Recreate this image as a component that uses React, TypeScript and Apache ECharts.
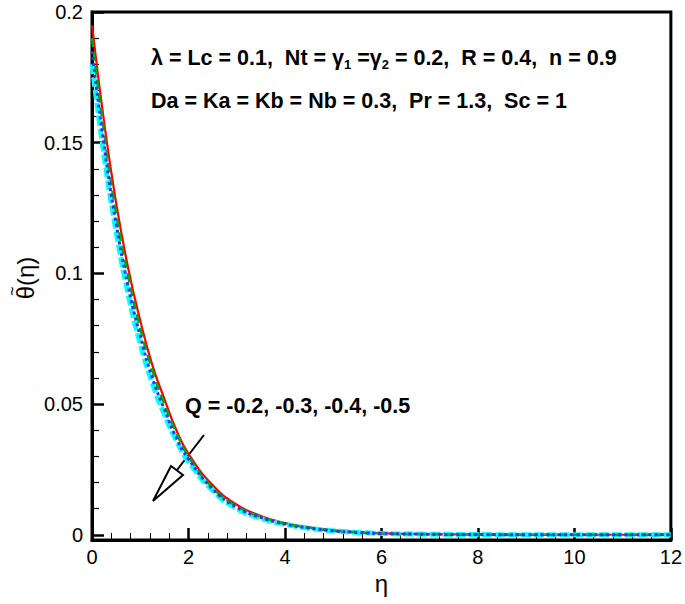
import React, { useEffect, useRef } from "react";
import * as echarts from "echarts";

const eta = [0, 0.25, 0.5, 0.75, 1, 1.25, 1.5, 1.75, 2, 2.5, 3, 3.5, 4, 4.5, 5, 5.5, 6, 7, 8, 9, 10, 11, 12];
const qRed = [0.195, 0.158, 0.127, 0.102, 0.082, 0.065, 0.052, 0.04, 0.031, 0.019, 0.0115, 0.0072, 0.0045, 0.0028, 0.0017, 0.001, 0.0006, 0.0002, 0.0001, 0, 0, 0, 0];
const qGreen = [0.19, 0.154, 0.123, 0.099, 0.079, 0.063, 0.05, 0.039, 0.03, 0.018, 0.011, 0.0069, 0.0043, 0.0027, 0.0016, 0.0009, 0.0005, 0.0002, 0.0001, 0, 0, 0, 0];
const qBlue = [0.185, 0.149, 0.119, 0.095, 0.076, 0.06, 0.048, 0.037, 0.029, 0.0175, 0.0105, 0.0066, 0.0041, 0.0026, 0.0015, 0.0009, 0.0005, 0.0002, 0.0001, 0, 0, 0, 0];
const qCyan = [0.18, 0.145, 0.116, 0.092, 0.073, 0.058, 0.046, 0.036, 0.028, 0.017, 0.01, 0.0063, 0.004, 0.0025, 0.0015, 0.0009, 0.0005, 0.0002, 0.0001, 0, 0, 0, 0];
const yMajor = [0, 0.05, 0.1, 0.15, 0.2];
const yMinor = [0.01, 0.02, 0.03, 0.04, 0.06, 0.07, 0.08, 0.09, 0.11, 0.12, 0.13, 0.14, 0.16, 0.17, 0.18, 0.19];

const FONT = '"Liberation Sans", Arial, Helvetica, sans-serif';
const ANN = 21.5;

const pairs = (ys: number[]) => eta.map((x, i) => [x, ys[i]]);

export default function App() {
  const ref = useRef<HTMLDivElement>(null);
  useEffect(() => {
    const chart = echarts.init(ref.current!, null, { renderer: "svg" });
    const yBase = {
      type: "value",
      min: -0.002,
      max: 0.2,
      splitLine: { show: false },
    };
    chart.setOption({
      animation: false,
      backgroundColor: "#fff",
      grid: { left: 92, right: 13, top: 12, bottom: 64, show: true, borderColor: "#000", borderWidth: 3, backgroundColor: "transparent" },
      xAxis: {
        type: "value",
        min: 0,
        max: 12,
        interval: 2,
        name: "η",
        nameLocation: "middle",
        nameGap: 28,
        nameTextStyle: { fontFamily: FONT, fontSize: 24, color: "#000" },
        axisLine: { show: true, onZero: false, lineStyle: { color: "#000", width: 3 } },
        axisTick: { show: true, inside: true, length: 12, lineStyle: { color: "#000", width: 2.5 } },
        minorTick: { show: true, splitNumber: 5, length: 7, lineStyle: { color: "#000", width: 1 } },
        axisLabel: { fontFamily: FONT, fontSize: 20, color: "#000", margin: 7 },
        splitLine: { show: false },
      },
      yAxis: [
        {
          ...yBase,
          offset: 0,
          axisLine: { show: true, onZero: false, lineStyle: { color: "#000", width: 3 } },
          axisTick: { show: true, inside: true, length: 12, customValues: yMajor, lineStyle: { color: "#000", width: 2.5 } },
          axisLabel: { fontFamily: FONT, fontSize: 20, color: "#000", margin: 9, customValues: yMajor },
        },
        {
          ...yBase,
          position: "left",
          offset: 0,
          axisLine: { show: false, onZero: false },
          axisTick: { show: true, inside: true, length: 7, customValues: yMinor, lineStyle: { color: "#000", width: 1.2 } },
          axisLabel: { show: false },
        },
      ],
      series: [
        { type: "line", data: pairs(qRed), smooth: true, showSymbol: false, lineStyle: { color: "#ff0000", width: 2.2 }, z: 2 },
        { type: "line", data: pairs(qCyan), smooth: true, showSymbol: false, lineStyle: { color: "#00ffff", width: 5, type: [10, 3] }, z: 3 },
        { type: "line", data: pairs(qGreen), smooth: true, showSymbol: false, lineStyle: { color: "#00b000", width: 2.5, type: [9, 5] }, z: 4 },
        { type: "line", data: pairs(qBlue), smooth: true, showSymbol: false, lineStyle: { color: "#3030ff", width: 3, type: [3, 3] }, z: 5 },
      ],
      graphic: [
        {
          type: "text",
          x: 25,
          y: 278,
          rotation: Math.PI / 2,
          style: { text: "θ(η)", fontFamily: FONT, fontSize: 24, fill: "#000", align: "center", verticalAlign: "middle" },
        },
        {
          type: "text",
          x: 12,
          y: 291,
          rotation: Math.PI / 2,
          style: { text: "~", fontFamily: FONT, fontSize: 16, fill: "#000", align: "center", verticalAlign: "middle" },
        },
        {
          type: "text",
          x: 151,
          y: 58,
          style: {
            text: "{n|λ = Lc = 0.1,  Nt = γ}{s|1}{n| =γ}{s|2}{n| = 0.2,  R = 0.4,  n = 0.9}",
            verticalAlign: "middle",
            rich: {
              n: { fontFamily: FONT, fontSize: ANN, fontWeight: "bold", fill: "#000", lineHeight: 26, verticalAlign: "middle" },
              s: { fontFamily: FONT, fontSize: 13, fontWeight: "bold", fill: "#000", lineHeight: 26, verticalAlign: "bottom", padding: [10, 0, 0, 0] },
            },
          },
        },
        {
          type: "text",
          x: 151,
          y: 101,
          style: {
            text: "Da = Ka = Kb = Nb = 0.3,  Pr = 1.3,  Sc = 1",
            fontFamily: FONT,
            fontSize: ANN,
            fontWeight: "bold",
            fill: "#000",
            verticalAlign: "middle",
          },
        },
        {
          type: "text",
          x: 185,
          y: 406,
          style: {
            text: "Q = -0.2, -0.3, -0.4, -0.5",
            fontFamily: FONT,
            fontSize: ANN,
            fontWeight: "bold",
            fill: "#000",
            verticalAlign: "middle",
          },
        },
        {
          type: "line",
          shape: { x1: 204, y1: 435, x2: 177, y2: 470 },
          style: { stroke: "#000", lineWidth: 2 },
        },
        {
          type: "polygon",
          shape: { points: [[171, 466], [183, 475], [153, 501]] },
          style: { fill: "#fff", stroke: "#000", lineWidth: 2 },
        },
      ],
    });
    return () => chart.dispose();
  }, []);
  return <div ref={ref} style={{ position: "fixed", left: 0, top: 0, width: 685, height: 604 }} />;
}
